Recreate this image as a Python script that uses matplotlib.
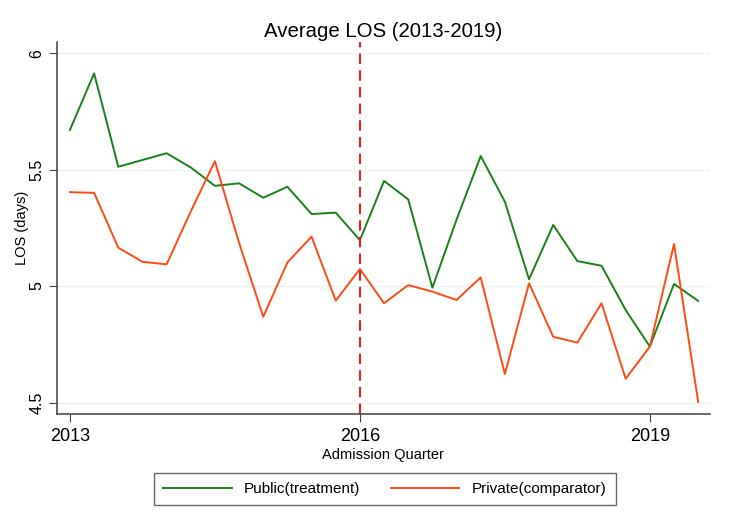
import matplotlib
matplotlib.use("Agg")
import matplotlib.pyplot as plt
import numpy as np

plt.rcParams['font.family'] = ['Liberation Sans', 'DejaVu Sans']

# Quarterly average LOS, 2013q1 .. 2019q3
start_year = 2013
n_quarters = 27
public_los = [5.67, 5.913, 5.512, 5.541, 5.570, 5.509, 5.430, 5.441, 5.379,
              5.426, 5.309, 5.315, 5.197, 5.451, 5.372, 4.993, 5.285, 5.558,
              5.362, 5.029, 5.262, 5.107, 5.087, 4.897, 4.740, 5.009, 4.936]
private_los = [5.403, 5.400, 5.165, 5.104, 5.093, 5.320, 5.536, 5.185, 4.868,
               5.101, 5.212, 4.937, 5.073, 4.926, 5.004, 4.976, 4.940, 5.037,
               4.622, 5.012, 4.782, 4.757, 4.926, 4.602, 4.740, 5.180, 4.503]
policy_year = 2016
x_ticks = [2013, 2016, 2019]
y_ticks = [4.5, 5, 5.5, 6]
y_labels = ["4.5", "5", "5.5", "6"]

t = start_year + np.arange(n_quarters) / 4

fig = plt.figure(figsize=(7.44, 5.20), dpi=100)
ax = fig.add_axes([0.0766, 0.204, 0.8774, 0.715])

for v in y_ticks:
    ax.axhline(v, color="#eaf2f3", lw=1.0, zorder=0)

ax.plot(t, public_los, color="#1a801a", lw=1.4, label="Public(treatment)")
ax.plot(t, private_los, color="#ff4a14", lw=1.4, label="Private(comparator)")
ax.axvline(policy_year, color="#ee1c25", lw=1.5, ls=(0, (5, 3)))

ax.set_xlim(2012.866, 2019.62)
ax.set_ylim(4.451, 6.047)
ax.set_xticks(x_ticks)
ax.set_xticklabels([str(x) for x in x_ticks], fontsize=13)
ax.set_yticks(y_ticks)
ax.set_yticklabels(y_labels, fontsize=11.5, rotation=90, va="center")

for s in ["top", "right"]:
    ax.spines[s].set_visible(False)
for s in ["left", "bottom"]:
    ax.spines[s].set_color("#404040")
    ax.spines[s].set_linewidth(1.1)
ax.tick_params(direction="out", length=6, color="#404040", pad=3)
ax.tick_params(axis="x", pad=4)

ax.set_title("Average LOS (2013-2019)", fontsize=14.7, pad=4)
ax.set_xlabel("Admission Quarter", fontsize=10.5, labelpad=2)
ax.set_ylabel("LOS (days)", fontsize=10.5, labelpad=0)

leg = fig.legend(loc="lower center", bbox_to_anchor=(0.517, 0.014), ncol=2,
                 fontsize=11, frameon=True, fancybox=False, edgecolor="#404040",
                 handlelength=4.5, columnspacing=2.0, borderpad=0.6)
leg.get_frame().set_linewidth(1.0)

fig.savefig("out.png", dpi=100, facecolor="white")
